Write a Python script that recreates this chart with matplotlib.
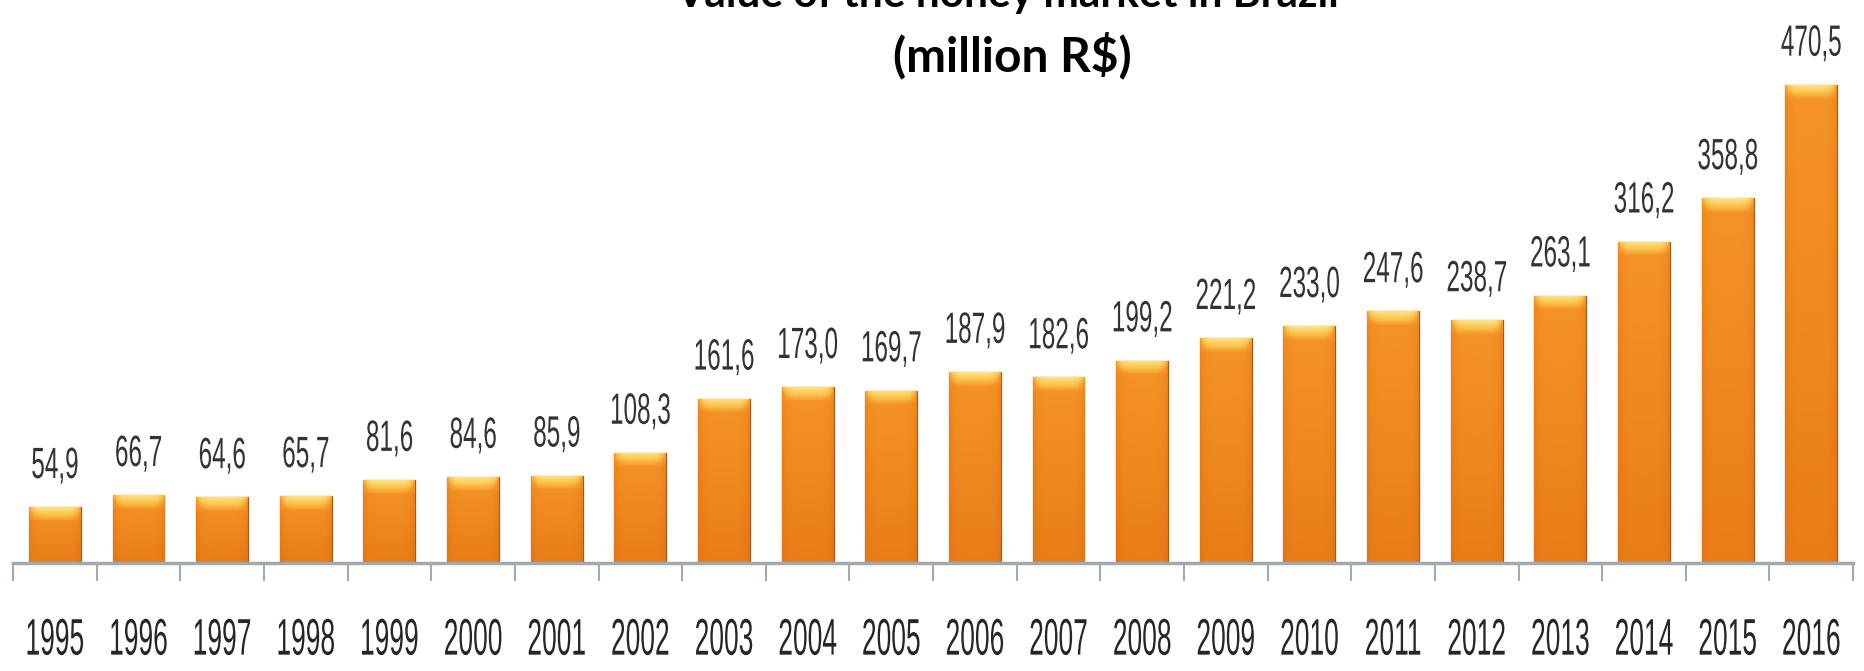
import numpy as np
import matplotlib
matplotlib.use("Agg")
import matplotlib.pyplot as plt
from matplotlib.colors import LinearSegmentedColormap
from matplotlib.patheffects import AbstractPathEffect
from matplotlib.transforms import Affine2D

years = ["1995", "1996", "1997", "1998", "1999", "2000", "2001", "2002", "2003", "2004", "2005",
         "2006", "2007", "2008", "2009", "2010", "2011", "2012", "2013", "2014", "2015", "2016"]
values = [54.9, 66.7, 64.6, 65.7, 81.6, 84.6, 85.9, 108.3, 161.6, 173.0, 169.7,
          187.9, 182.6, 199.2, 221.2, 233.0, 247.6, 238.7, 263.1, 316.2, 358.8, 470.5]
title_lines = ["Value of the honey market in Brazil", "(million R$)"]


class Stretch(AbstractPathEffect):
    # scales glyphs about their horizontal centre and baseline (the labels in the
    # original are tall and narrow)
    def __init__(self, sx=1.0, sy=1.0):
        super().__init__()
        self.sx, self.sy = sx, sy

    def draw_path(self, renderer, gc, tpath, affine, rgbFace=None):
        ext = tpath.get_extents()
        cx = (ext.x0 + ext.x1) / 2
        t = Affine2D().translate(-cx, 0).scale(self.sx, self.sy).translate(cx, 0)
        renderer.draw_path(gc, tpath, t + affine, rgbFace)


label_font = "Liberation Sans"

fig = plt.figure(figsize=(18.65, 6.71), dpi=100)
ax = fig.add_axes([0.007, 0.161, 0.9866, 0.839])

x = np.arange(len(values))
bars = ax.bar(x, values, width=0.62, color="#EE851C", edgecolor="#A8581A", linewidth=0.9, zorder=2)

# gradient fill for each bar: light top cap, darker sides
cmap_v = LinearSegmentedColormap.from_list(
    "v", ["#B85E14", "#E37514", "#EE851D", "#F5962A", "#FBC64E", "#FDE38C"])
for b in bars:
    x0, w, h = b.get_x(), b.get_width(), b.get_height()
    yy = np.linspace(0, h, 240)
    top = np.clip((yy - (h - 13)) / 13, 0, 1)
    base = 0.30 + 0.28 * yy / max(h, 1)
    grad = np.where(top > 0, 0.62 + 0.38 * top, base)
    side = 1 - 0.35 * np.abs(np.linspace(-1, 1, 60)) ** 6
    img = grad[:, None] * side[None, :]
    im = ax.imshow(img, cmap=cmap_v, vmin=0, vmax=1, origin="lower", aspect="auto",
                   extent=(x0, x0 + w, 0, h), zorder=2.5, interpolation="bilinear")
    im.set_clip_path(b)

for xi, v in zip(x, values):
    ax.annotate(f"{v:.1f}".replace(".", ","), (xi, v), xytext=(0, 21), textcoords="offset points",
                ha="center", va="baseline", fontsize=17.5, color="#333333", family=label_font,
                path_effects=[Stretch(1.0, 1.8)])

for xi, yr in zip(x, years):
    ax.annotate(yr, (xi, 0), xycoords=("data", "axes fraction"), xytext=(0, -66),
                textcoords="offset points", ha="center", va="baseline", fontsize=19,
                color="#262626", family=label_font, path_effects=[Stretch(1.0, 1.95)])

ax.set_xlim(-0.5, len(values) - 0.5)
ax.set_ylim(0, 554)
ax.set_xticks(np.arange(-0.5, len(values), 1))
ax.set_xticklabels([])
ax.tick_params(axis="x", length=13, width=1.5, color="#A0A8B0")
ax.set_yticks([])
for s in ["left", "right", "top"]:
    ax.spines[s].set_visible(False)
ax.spines["bottom"].set_color("#A0A8B0")
ax.spines["bottom"].set_linewidth(2.5)

fig.text(0.540, 0.989, title_lines[0], ha="center", va="baseline", fontsize=30.5,
         fontweight="bold", family="Lato")
fig.text(0.5426, 0.894, title_lines[1], ha="center", va="baseline", fontsize=34.5,
         fontweight="bold", family="Lato")

fig.savefig("out.png", dpi=100, facecolor="white")
